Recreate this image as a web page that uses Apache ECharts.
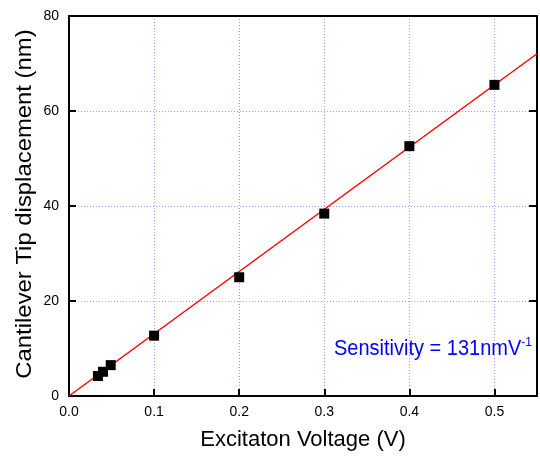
<!DOCTYPE html>
<html><head><meta charset="utf-8">
<script src="https://cdn.jsdelivr.net/npm/echarts@6/dist/echarts.min.js"></script>
<style>html,body{margin:0;padding:0;background:#fff}#c{width:540px;height:456px}</style>
</head><body><div id="c"></div>
<script>
const voltage = [0.034, 0.04, 0.049, 0.1, 0.2, 0.3, 0.4, 0.5];
const displacement = [4.2, 5.1, 6.5, 12.7, 25.0, 38.4, 52.6, 65.5];
const fitX = [0, 0.55];
const fitY = [0, 72.05];
const xTicks = ['0.0','0.1','0.2','0.3','0.4','0.5'];
const yTicks = ['0','20','40','60','80'];
const xTitle = 'Excitaton Voltage (V)';
const yTitle = 'Cantilever Tip displacement (nm)';
const annotation = 'Sensitivity = 131nmV';

const chart = echarts.init(document.getElementById('c'), null, {renderer:'canvas'});
const F = 'Liberation Sans, Arial, sans-serif';
chart.setOption({
  animation:false,
  grid:{left:69,right:3,top:16,bottom:60,show:false},
  xAxis:[{
    type:'value',min:0,max:0.55,interval:0.1,
    name:xTitle,nameLocation:'middle',nameGap:33,
    nameTextStyle:{fontFamily:F,fontSize:22,color:'#000'},
    axisLine:{show:true,onZero:false,lineStyle:{color:'#000',width:2}},
    axisTick:{show:true,inside:true,length:7,lineStyle:{color:'#000',width:2}},
    axisLabel:{fontFamily:F,fontSize:14,color:'#000',margin:9,formatter:v=>xTicks[Math.round(v*10)]||'',showMaxLabel:false},
    splitLine:{show:true,showMaxLine:false,lineStyle:{color:'#9a9af0',type:[1,2],width:1}}
  },{
    type:'value',position:'top',min:0,max:0.55,interval:0.1,
    axisLine:{show:true,onZero:false,lineStyle:{color:'#000',width:2}},
    axisTick:{show:false},axisLabel:{show:false},splitLine:{show:false}
  }],
  yAxis:[{
    type:'value',min:0,max:80,interval:20,
    axisLine:{show:true,onZero:false,lineStyle:{color:'#000',width:2}},
    axisTick:{show:true,inside:true,length:7,lineStyle:{color:'#000',width:2}},
    axisLabel:{fontFamily:F,fontSize:14,color:'#000',margin:10,formatter:v=>yTicks[Math.round(v/20)]},
    splitLine:{show:true,showMaxLine:false,lineStyle:{color:'#9a9af0',type:[1,2],width:1}}
  },{
    type:'value',position:'right',min:0,max:80,interval:20,
    axisLine:{show:true,onZero:false,lineStyle:{color:'#000',width:2}},
    axisTick:{show:true,inside:true,length:8,lineStyle:{color:'#000',width:2}},
    axisLabel:{show:false},splitLine:{show:false}
  }],
  series:[{
    type:'line',data:fitX.map((x,i)=>[x,fitY[i]]),symbol:'none',
    lineStyle:{color:'#ff0000',width:1.5},z:2
  },{
    type:'scatter',data:voltage.map((x,i)=>[x,displacement[i]]),
    symbol:'rect',symbolSize:10,itemStyle:{color:'#000',opacity:1},z:3
  }],
  graphic:[{
    type:'text',x:25,y:204,rotation:Math.PI/2,scaleX:1.085,
    style:{text:yTitle,fontFamily:F,fontSize:22,fill:'#000',align:'center',verticalAlign:'middle'}
  },{
    type:'text',x:334,y:336,scaleY:1.08,
    style:{
      text:'{a|'+annotation+'}{s|-1}',
      rich:{
        a:{fontFamily:F,fontSize:20,fill:'#0000ff',verticalAlign:'bottom',height:24,lineHeight:24},
        s:{fontFamily:F,fontSize:12,fill:'#0000ff',verticalAlign:'top',padding:[0,0,12,0]}
      }
    }
  }]
});
</script></body></html>
